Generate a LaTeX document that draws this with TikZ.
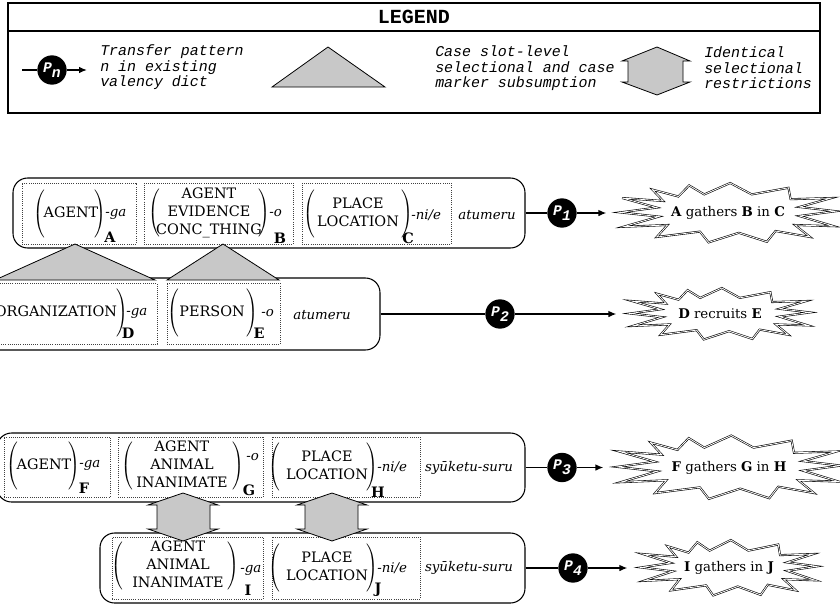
\documentclass[tikz,border=0pt]{standalone}
\usepackage{fontspec}
\setmainfont{DejaVu Serif}
\newfontfamily\cour{Liberation Mono}
\usetikzlibrary{arrows.meta}
\definecolor{shapegray}{RGB}{200,200,200}
\newcommand\PStrut{\vrule height 18.5pt depth 14.5pt width 0pt}
% #1 letter, #2 cy, #3 text x, #4 left paren x, #5 right paren x, #6 text, #7 suffix coord, #8 suffix, #9 letter coord
\newcommand\slotcontent[9]{%
  \node[slottext] (t#1) at (#3,#2) {\begin{tabular}{@{}c@{}}#6\end{tabular}};
  \node[paren] (lp#1) at (#4,#2) {$\left(\PStrut\right.$};
  \node[paren] (rp#1) at (#5,#2) {$\left.\PStrut\right)$};
  \node[suffix] (sf#1) at #7 {\textit{#8}};
  \node[slotletter] (lt#1) at #9 {\textbf{#1}};
}
\newcommand\burstshape[3]{%
  \begin{scope}[shift={(#1)}, xscale=#2, yscale=-#3]
    \draw[burst] (-1.00,0.02) -- (-0.64,-0.12) -- (-0.97,-0.46) -- (-0.56,-0.40) -- (-0.66,-0.80) -- (-0.26,-0.62) -- (-0.18,-0.98) -- (0.10,-0.66) -- (0.36,-0.96) -- (0.44,-0.60) -- (0.76,-0.80) -- (0.62,-0.40) -- (0.98,-0.44) -- (0.66,-0.10) -- (1.00,0.06) -- (0.66,0.20) -- (0.96,0.50) -- (0.58,0.46) -- (0.56,0.84) -- (0.22,0.62) -- (0.02,1.00) -- (-0.22,0.62) -- (-0.36,0.92) -- (-0.46,0.55) -- (-0.70,0.78) -- (-0.60,0.40) -- (-0.98,0.50) -- (-0.66,0.18) -- cycle;
  \end{scope}}
\begin{document}
\begin{tikzpicture}[x=0.75pt,y=-0.75pt,
  font=\fontsize{10.8}{13.5}\selectfont,
  outerbox/.style 2 args={draw, line width=0.8pt, rounded corners=11pt, minimum width=#1*0.75pt, minimum height=#2*0.75pt, inner sep=0pt},
  slotbox/.style 2 args={draw=black!75, densely dotted, line width=0.6pt, minimum width=#1*0.75pt, minimum height=#2*0.75pt, inner sep=0pt},
  slottext/.style={inner sep=0pt, align=center},
  paren/.style={inner sep=0pt},
  suffix/.style={inner sep=0pt, anchor=west, font=\fontsize{10}{12}\selectfont},
  slotletter/.style={inner sep=0pt},
  verbtext/.style={inner sep=0pt, font=\fontsize{10}{12}\selectfont\itshape},
  pcirc/.style={circle, fill=black, minimum size=22pt, inner sep=0pt, text=white, font=\cour\bfseries\itshape\fontsize{11}{11}\selectfont},
  conn/.style={line width=1.1pt},
  arr/.style={line width=1.1pt, -{Latex[length=6pt,width=5pt]}},
  arrb/.style={arr, shorten >=10pt},
  burst/.style={draw, line width=0.45pt, double, double distance=0.6pt, fill=white},
  bursttext/.style 2 args={minimum width=#1*0.75pt, minimum height=#2*0.75pt, inner sep=0pt, font=\fontsize{10}{12}\selectfont},
  leg/.style={font=\cour\itshape\fontsize{11.2}{11.25}\selectfont, anchor=west, inner sep=0pt},
  shapefill/.style={fill=shapegray, draw=black, line width=0.6pt}
]
\useasboundingbox (0,0) rectangle (840,604);
\clip (0,0) rectangle (840,604);

% ---------------- Legend
\node[draw, line width=0.8pt, minimum width=812*0.75pt, minimum height=110*0.75pt, inner sep=0pt] (legend) at (414,58) {};
\coordinate (hl) at (8,31);
\coordinate (hr) at (820,31);
\draw[line width=0.8pt] (hl) -- (hr);
\node[font=\cour\bfseries\fontsize{15}{15}\selectfont, inner sep=0pt] (title) at (414,17) {LEGEND};

\coordinate (lgA) at (22,70);
\coordinate (lgB) at (87,70);
\node[pcirc] (pn) at (52,70) {P\raisebox{-3.5pt}{n}};
\draw[conn] (lgA) -- (pn);
\draw[arr] (pn) -- (lgB);
\node[leg] (legtxt1) at (100,68) {\begin{tabular}{@{}l@{}}Transfer pattern\\n in existing\\valency dict\end{tabular}};

\draw[shapefill] (272,87) -- (328,47) -- (385,87) -- cycle;
\node[leg] (legtxt2) at (435,69) {\begin{tabular}{@{}l@{}}Case slot-level\\selectional and case\\marker subsumption\end{tabular}};

\draw[shapefill] (657,47) -- (690,61) -- (683,61) -- (683,82) -- (690,82) -- (657,95) -- (622,82) -- (628,82) -- (628,61) -- (622,61) -- cycle;
\node[leg] (legtxt3) at (704,70) {\begin{tabular}{@{}l@{}}Identical\\selectional\\restrictions\end{tabular}};

% ---------------- Section 1
\node[outerbox={512}{70}] (r1) at (269,213) {};
\node[outerbox={407}{72}] (r2) at (176.5,314) {};

\node[slotbox={114}{61}] (bA) at (79,213.5) {};
\node[slotbox={149}{61}] (bB) at (218.5,213.5) {};
\node[slotbox={149}{61}] (bC) at (376.5,213.5) {};
\node[slotbox={175}{61}] (bD) at (69.5,313.5) {};
\node[slotbox={113}{61}] (bE) at (223.5,313.5) {};

\slotcontent{A}{214}{71}{40}{100}{AGENT}{(105,214)}{-ga}{(110,237)}
\slotcontent{B}{213}{209}{155}{264}{AGENT\\EVIDENCE\\CONC\_THING}{(269,213)}{-o}{(280,238)}
\slotcontent{C}{214}{358}{310}{407}{PLACE\\LOCATION}{(411,215)}{-ni/e}{(408,238)}
\slotcontent{D}{313}{56}{-10}{122}{ORGANIZATION}{(126,313)}{-ga}{(128,333)}
\slotcontent{E}{313}{212}{174}{252}{PERSON}{(261,313)}{-o}{(259,333)}

\node[verbtext] (v1) at (487,215) {atumeru};
\node[verbtext] (v2) at (322,315) {atumeru};

\node[pcirc] (p1) at (562,213) {P\raisebox{-3.5pt}{1}};
\node[pcirc] (p2) at (500,314) {P\raisebox{-3.5pt}{2}};

\coordinate (c1) at (728,213);
\burstshape{c1}{108}{30}
\node[bursttext={216}{40}] (s1) at (c1) {\textbf{A} gathers \textbf{B} in \textbf{C}};
\coordinate (c2) at (720,314);
\burstshape{c2}{90}{26}
\node[bursttext={180}{36}] (s2) at (c2) {\textbf{D} recruits \textbf{E}};

\draw[conn] (r1) -- (p1);
\draw[arrb] (p1) -- (s1);
\draw[conn] (r2) -- (p2);
\draw[arrb] (p2) -- (s2);

\draw[shapefill] (-5,280) -- (75,244) -- (155,280) -- cycle;
\draw[shapefill] (167,280) -- (223,244) -- (279,280) -- cycle;

% ---------------- Section 2
\node[outerbox={528}{69}] (r3) at (261,467.5) {};
\node[outerbox={425}{70}] (r4) at (312.5,568) {};

\node[slotbox={106}{60}] (bF) at (57,467) {};
\node[slotbox={145}{60}] (bG) at (190.5,467) {};
\node[slotbox={148}{60}] (bH) at (346,467) {};
\node[slotbox={151}{62}] (bI) at (187.5,568) {};
\node[slotbox={148}{62}] (bJ) at (346,568) {};

\slotcontent{F}{466}{44}{13}{74}{AGENT}{(79,465)}{-ga}{(84,488)}
\slotcontent{G}{466}{182}{128}{238}{AGENT\\ANIMAL\\INANIMATE}{(246,457)}{-o}{(249,490)}
\slotcontent{H}{467}{327}{275}{372}{PLACE\\LOCATION}{(377,467)}{-ni/e}{(378,492)}
\slotcontent{I}{566}{178}{118}{233}{AGENT\\ANIMAL\\INANIMATE}{(240,570)}{-ga}{(248,590)}
\slotcontent{J}{568}{327}{275}{372}{PLACE\\LOCATION}{(377,568)}{-ni/e}{(378,590)}

\node[verbtext] (v3) at (469,468) {syūketu-suru};
\node[verbtext] (v4) at (469,568) {syūketu-suru};

\node[pcirc] (p3) at (562,467.5) {P\raisebox{-3.5pt}{3}};
\node[pcirc] (p4) at (573,568) {P\raisebox{-3.5pt}{4}};

\coordinate (c3) at (729,467.5);
\burstshape{c3}{112}{32}
\node[bursttext={224}{42}] (s3) at (c3) {\textbf{F} gathers \textbf{G} in \textbf{H}};
\coordinate (c4) at (729,568);
\burstshape{c4}{88}{28}
\node[bursttext={176}{38}] (s4) at (c4) {\textbf{I} gathers in \textbf{J}};

\draw[conn] (r3) -- (p3);
\draw[arrb] (p3) -- (s3);
\draw[conn] (r4) -- (p4);
\draw[arrb] (p4) -- (s4);

\draw[shapefill] (183,493) -- (218,505) -- (210,505) -- (210,529) -- (218,529) -- (183,541) -- (148,529) -- (157,529) -- (157,505) -- (148,505) -- cycle;
\draw[shapefill] (332,493) -- (367,505) -- (358,505) -- (358,529) -- (367,529) -- (332,541) -- (297,529) -- (305,529) -- (305,505) -- (297,505) -- cycle;
\end{tikzpicture}
\end{document}
